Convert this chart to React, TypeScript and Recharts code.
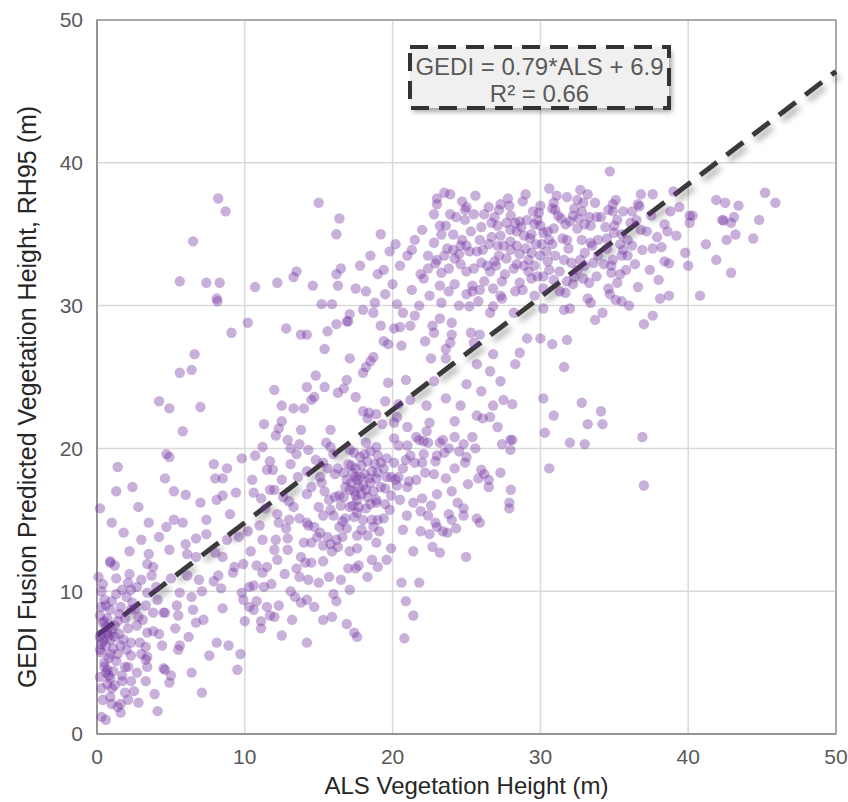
import React from "react";
import {
  ScatterChart,
  Scatter,
  XAxis,
  YAxis,
  CartesianGrid,
  ReferenceLine,
  ReferenceArea,
} from "recharts";

// ALS height (x, m) vs GEDI fusion RH95 (y, m)
const shortStands: [number, number][] = [
  [0.9,12.0],[1.2,11.8],[3.4,11.9],[3.8,11.7],[3.7,11.1],[0.1,11.0],[1.3,10.9],[2.1,10.6],[2.7,10.3],[2.3,10.1],
  [1.7,10.1],[0.3,10.0],[3.4,9.9],[4.1,9.4],[0.5,9.4],[1.0,9.3],[0.3,8.9],[0.9,8.7],[1.6,8.9],[2.3,8.7],
  [3.3,9.0],[3.8,8.5],[4.5,8.5],[4.6,8.5],[5.4,9.0],[5.6,9.9],[5.5,8.3],[6.5,8.7],[6.7,7.8],[7.2,8.0],
  [8.5,8.8],[6.1,11.1],[6.9,10.8],[7.1,10.0],[7.9,10.7],[8.2,11.1],[8.4,10.2],[9.3,11.7],[9.2,11.3],[9.9,11.9],
  [0.5,7.9],[0.7,8.1],[1.4,7.9],[1.9,8.1],[2.1,7.4],[2.7,7.6],[2.8,8.2],[3.4,7.1],[3.8,7.2],[4.2,7.0],
  [0.3,7.0],[0.7,7.1],[0.9,6.6],[0.6,6.2],[0.2,5.9],[1.1,6.0],[1.6,6.2],[1.8,6.6],[2.3,6.4],[2.9,6.4],
  [3.3,6.1],[3.0,5.6],[3.4,5.4],[3.3,5.2],[4.4,6.2],[5.6,6.2],[5.5,5.9],[1.4,5.6],[2.3,5.5],[0.3,5.7],
  [0.5,4.7],[0.7,4.5],[0.8,4.1],[0.9,3.9],[1.9,4.7],[2.1,4.7],[1.7,4.1],[2.3,3.7],[3.4,4.7],[4.5,4.6],
  [4.6,4.5],[5.0,4.1],[4.9,3.6],[6.4,4.3],[8.1,6.4],[8.9,6.2],[9.7,5.6],[9.5,4.5],[0.3,3.2],[1.2,3.4],
  [1.7,3.7],[2.5,3.0],[3.3,3.7],[0.9,2.6],[1.0,2.1],[1.6,2.1],[2.1,2.4],[1.6,1.5],[0.3,1.2],[0.6,1.0],
  [4.1,1.6],[7.1,2.9],[0.4,6.5],[0.6,7.5],[1.0,7.3],[0.8,5.3],[0.5,5.0],[1.2,6.8],[0.2,6.8],[1.1,4.4],
  [0.7,3.5],[0.2,8.3],[1.3,9.8],[2.0,9.6],[0.6,9.0],[1.5,7.0],[2.6,8.8],[0.4,10.5],[3.0,10.8],[2.2,11.2],
  [0.4,7.8],[0.8,6.9],[1.2,7.6],[0.3,6.3],[0.9,5.6],[1.3,5.1],[0.6,4.3],[1.0,3.2],[0.4,2.4],[1.9,2.9],
  [2.7,4.3],[2.0,5.9],[1.5,8.4],[2.4,9.2],[3.1,8.0],[0.2,4.0],[1.4,1.9],[2.8,2.2],[3.9,2.8],[5.3,7.4],
  [6.2,6.8],[7.6,5.5],[4.0,10.3],[5.0,10.9],[6.4,9.6],
  [4.7,19.6],[4.9,19.4],[1.4,18.7],[4.6,17.9],[2.4,17.3],[1.3,17.0],[5.2,17.0],[6.0,16.75],[0.2,15.8],[2.8,15.9],
  [1.0,14.8],[1.8,14.1],[3.5,14.8],[4.7,14.5],[5.2,15.0],[5.8,14.8],[4.2,13.8],[4.9,12.9],[6.0,13.3],[6.7,13.7],
  [7.4,15.0],[3.5,12.6],[0.9,12.1],[6.1,12.6],[6.7,12.4],[8.0,12.7],[8.5,12.4],[7.9,18.9],[8.8,18.6],[8.0,17.9],
  [8.5,17.9],[9.8,19.3],[8.1,16.4],[8.5,16.7],[9.6,13.8],[9.0,15.4],[9.4,16.9],[7.4,14.0],[8.8,13.6],[7.0,16.2],
  [3.0,13.6],[2.2,12.8],
  [8.2,37.5],[8.7,36.6],[6.5,34.5],[5.6,31.7],[7.4,31.6],[8.3,31.6],[8.1,30.5],[8.15,30.3],[9.1,28.1],[6.6,26.6],
  [6.4,25.5],[5.6,25.3],[4.2,23.3],[4.9,22.8],[7.0,22.9],[5.8,21.2],
];

const midStands: [number, number][] = [
  [10.7,31.3],[12.2,31.6],[13.3,32.0],[13.5,32.4],[15.0,37.2],[16.4,36.1],[16.2,35.0],[16.5,32.6],[16.2,32.2],[16.3,31.4],
  [14.6,31.4],[15.2,30.1],[15.9,30.1],[10.2,28.8],[12.8,28.4],[13.8,27.97],[14.2,27.97],[15.6,28.2],[16.2,28.7],[16.9,28.9],
  [15.4,26.96],[14.8,25.1],[14.2,24.3],[15.4,24.3],[16.7,24.2],[16.9,24.8],[16.3,23.9],[14.5,23.4],[14.7,23.6],[12.0,24.1],
  [12.5,23.0],[13.3,22.8],[14.0,22.8],[11.3,21.7],[12.5,21.9],[12.3,21.4],[12.1,20.9],[12.9,20.6],[13.8,21.3],[15.8,21.3],
  [15.5,20.4],[15.8,20.1],[13.7,20.3],[13.1,20.0],[11.2,20.1],[13.5,19.6],[14.3,19.9],[10.7,19.5],
  [11.7,19.1],[11.5,18.5],[11.9,18.5],[13.1,18.9],[11.7,17.1],[10.6,16.9],[11.1,16.5],[12.0,17.1],[12.6,16.6],[11.4,15.8],
  [12.2,15.4],[13.0,15.0],[12.3,14.8],[12.8,14.4],[13.6,18.0],[13.3,15.9],[13.7,15.1],[12.9,13.7],[12.1,13.6],[11.2,13.6],
  [12.0,12.9],[12.9,12.9],[13.8,12.4],[12.2,12.2],[10.4,12.8],[10.8,11.8],[11.5,11.7],[11.2,11.3],[10.6,10.4],[11.3,10.3],
  [10.3,10.3],[10.8,9.3],[13.5,11.6],[13.7,11.0],[10.3,8.9],[11.5,8.9],[12.3,9.0],[12.0,8.2],[13.4,9.6],[13.8,9.2],
  [11.1,7.9],[11.1,7.4],[12.5,6.9],[14.2,6.4],[10.0,7.9],[10.6,8.7],[11.7,8.3],[9.8,9.9],[9.9,9.4],
  [11.0,14.6],[10.2,14.2],[10.5,17.8],[13.0,16.3],[12.5,17.8],[11.8,10.5],[12.7,11.2],[13.1,10.0],[13.2,8.0],
  [14.2,18.4],[15.1,18.0],[15.6,18.6],[16.1,18.2],[16.3,18.6],[16.7,18.3],[15.2,17.6],[14.5,17.3],[15.4,16.99],[14.2,16.8],
  [16.1,16.6],[16.4,16.7],[15.8,15.7],[15.3,15.3],[14.3,14.6],[14.7,14.5],[15.1,14.1],[15.6,13.8],[14.9,13.8],[14.5,13.4],
  [14.0,13.4],[15.8,13.3],[16.2,13.6],[16.3,13.1],[15.9,12.8],[15.3,13.2],[16.6,13.8],[16.4,14.5],[16.6,14.9],[16.8,15.1],
  [16.7,16.6],[16.9,14.4],[14.1,12.0],[14.5,12.0],[15.3,12.1],[14.3,10.8],[16.2,9.3],[15.9,8.2],[15.3,7.99],[16.9,7.7],
  [14.2,9.4],[14.2,14.8],[15.0,15.9],[15.7,16.4],[16.0,15.3],[14.8,19.2],[15.3,19.0],[16.0,19.6],[15.0,10.6],[15.7,11.0],
  [16.5,10.8],[16.0,9.8],[14.7,8.9],[16.5,16.0],
  [17.5,23.6],[19.7,24.6],[20.9,24.8],[18.0,22.6],[18.4,22.5],[18.3,22.1],[18.9,22.4],[19.3,21.7],[20.1,21.8],[20.3,22.2],
  [20.4,23.1],[21.2,23.4],[22.8,24.7],[21.6,20.8],[22.1,20.5],[22.3,21.2],[22.5,21.8],[21.8,20.6],[22.4,20.4],[23.4,20.6],
  [23.2,20.4],[24.2,21.9],[25.7,22.3],[26.1,22.1],[26.6,22.2],[26.8,23.0],[25.4,20.8],[24.8,20.3],[24.2,20.8],[23.8,20.0],
  [23.5,19.7],[22.9,19.1],[22.1,19.6],[22.0,19.0],[22.2,18.3],[22.8,18.2],[24.2,18.6],[25.0,19.4],[24.9,19.0],[26.0,18.5],
  [26.2,18.2],[26.5,17.8],[26.5,17.3],[25.8,17.9],[25.1,17.5],[23.6,17.9],[21.6,17.8],[21.2,19.5],[20.9,19.2],[20.7,18.6],
  [21.1,17.7],[21.0,17.3],[20.4,18.0],[20.3,17.4],[21.0,20.2],[20.4,20.2],[20.1,20.7],[20.1,19.0],[19.6,18.0],[19.4,18.6],
  [19.9,18.0],[20.2,17.8],[18.9,20.1],[19.0,19.5],[18.2,20.4],[17.4,19.7],[17.1,19.9],[17.5,18.6],[17.8,18.0],[17.5,18.0],
  [17.6,17.8],[18.1,18.2],[18.5,17.6],[18.9,17.9],[19.2,17.3],[19.5,17.2],[18.2,17.1],[17.2,17.6],[17.1,17.1],[17.5,16.7],
  [17.6,16.4],[18.3,16.6],[18.9,16.4],[18.9,16.2],[19.5,16.1],[19.8,15.7],[19.4,15.1],[19.0,14.99],[18.2,15.8],[17.7,15.9],
  [17.1,15.9],[17.6,15.5],[18.0,14.99],[17.4,15.2],[18.6,15.0],[18.7,14.5],[19.1,14.2],[18.3,13.9],[17.6,13.9],[17.9,14.3],
  [17.1,12.8],[17.6,13.0],[18.6,12.2],[19.6,12.2],[19.9,13.0],[18.9,13.4],[17.0,11.6],[17.7,11.8],[17.5,11.6],[17.1,10.1],
  [17.4,7.1],[17.6,6.8],[20.9,9.3],[21.4,8.3],[20.6,10.6],[21.8,10.6],[20.8,6.7],[20.7,14.3],[21.4,12.8],[21.9,14.2],
  [22.5,14.0],[22.7,13.1],[23.2,12.7],[23.4,14.2],[23.0,14.5],[23.8,15.4],[24.0,14.99],[23.7,14.1],[22.9,14.8],[22.4,15.3],
  [21.9,15.6],[21.4,16.2],[20.97,15.3],[24.4,16.2],[24.8,15.8],[24.8,15.3],[24.3,14.4],[25.7,15.1],[25.9,14.8],[24.97,12.4],
  [17.9,18.8],[18.3,19.1],[18.6,18.4],[17.3,18.3],[18.0,17.4],[17.8,19.4],[18.5,19.8],[19.2,19.0],[17.0,18.9],[18.8,18.9],
  [17.4,17.0],[16.9,17.8],[17.9,16.8],[18.4,17.9],[17.2,18.8],[19.0,18.3],[18.1,19.6],[16.8,17.3],[17.7,17.3],[18.7,17.0],
  [19.6,19.3],[17.3,16.0],[18.5,16.1],[18.3,11.0],[19.0,11.7],[22.0,16.5],[23.0,16.8],[24.0,17.0],[22.6,16.0],[20.5,16.4],
  [19.9,16.7],[21.5,19.0],[23.0,19.5],[24.5,19.8],[25.6,20.0],[21.0,21.5],[19.5,23.3],[23.6,23.5],[24.6,23.0],[25.0,24.5],
  [26.0,24.0],[22.3,23.0],[27.1,21.5],
  [17.1,29.4],[17.0,28.9],[18.0,29.7],[18.7,29.5],[20.3,30.1],[19.2,28.6],[20.1,28.4],[20.5,28.5],[19.4,27.5],[19.7,27.3],
  [20.6,27.2],[17.1,26.3],[18.7,26.4],[18.5,26.1],[18.2,25.7],[18.0,25.3],[22.6,26.3],[23.6,26.3],[23.6,26.96],[25.7,25.9],
  [26.6,25.4],[26.8,26.6],[27.3,24.7],[22.2,27.5],[23.2,29.1],[25.2,29.95],[26.6,29.5],[25.5,27.4],[28.0,17.1],[27.9,16.2],
  [27.9,15.8],[27.3,18.3],[27.97,20.6],[28.1,20.6],[27.97,19.9],[27.4,20.3],[27.5,23.4],[28.1,23.1],
  [18.5,33.5],[19.0,32.2],[19.8,33.8],[18.2,31.0],[19.5,30.8],[20.0,31.5],[17.8,32.8],[19.2,35.0],[20.2,34.3],[18.8,30.2],
  [17.5,31.2],[19.4,32.5],
];

const tallStands: [number, number][] = [
  [30.6,38.2],[32.7,38.1],[23.5,37.9],[23.0,37.5],[23.9,37.8],[25.6,37.7],[23.0,37.1],[27.3,37.1],[27.9,36.99],[28.8,37.3],
  [31.1,37.7],[30.9,37.2],[31.8,37.6],[32.5,37.4],[32.9,37.2],[33.7,37.2],[30.8,36.8],[24.9,36.7],[27.2,36.7],[32.3,36.8],
  [32.8,36.6],[29.9,36.5],[25.5,36.4],[26.2,36.4],[24.9,36.0],[28.6,35.9],[29.1,36.0],[29.8,36.0],[31.4,36.1],[33.3,36.2],
  [33.8,36.2],[22.0,35.3],[23.2,35.6],[23.6,35.6],[26.7,35.8],[27.1,35.6],[27.7,35.8],[28.3,35.8],[27.97,35.3],[28.4,35.2],
  [29.6,35.7],[30.0,35.6],[30.5,35.2],[30.9,35.4],[31.7,35.7],[32.0,35.9],[32.5,35.4],[33.0,35.7],[33.4,35.6],[23.3,34.98],
  [24.1,34.98],[24.7,34.6],[25.9,34.6],[26.7,34.8],[27.3,34.9],[27.5,34.2],[27.97,34.5],[28.4,34.2],[28.9,34.9],[29.3,34.7],
  [29.7,34.3],[30.2,35.1],[30.6,34.6],[30.8,34.3],[31.5,34.7],[31.8,34.6],[32.8,34.6],[33.4,34.4],[33.9,34.6],[21.0,33.5],
  [21.3,33.9],[22.4,33.5],[23.0,33.2],[23.5,33.5],[23.7,34.0],[24.1,33.9],[24.2,33.3],[24.6,34.2],[25.0,34.2],[25.2,33.8],
  [25.7,33.8],[26.1,33.9],[26.5,34.3],[27.1,34.2],[27.2,33.5],[27.7,33.3],[28.6,33.6],[29.2,33.2],[29.4,33.7],[29.98,33.5],
  [30.5,33.1],[31.0,33.5],[31.6,33.2],[32.1,33.0],[32.7,33.2],[33.0,33.7],[33.5,34.2],[33.9,33.5],[20.5,32.8],[21.9,32.2],
  [22.1,31.9],[22.9,32.96],[23.3,32.3],[23.8,32.6],[24.6,32.9],[24.99,32.4],[25.5,32.6],[26.4,32.8],[26.9,33.1],[26.6,32.4],
  [28.2,32.6],[28.4,32.9],[28.9,32.8],[29.2,32.4],[29.4,31.9],[29.8,32.05],[30.2,32.05],[30.6,32.5],[31.8,31.7],[32.5,32.5],
  [32.9,31.9],[33.3,31.6],[33.8,32.05],[21.3,31.1],[23.2,31.4],[23.8,31.0],[24.2,31.5],[25.4,31.4],[25.4,31.0],[25.9,31.1],
  [26.8,31.2],[27.3,30.7],[28.3,31.0],[28.6,31.6],[25.8,30.3],[26.8,29.95],[27.4,30.5],[29.6,30.7],[30.2,31.2],[31.3,31.0],
  [31.7,30.9],[32.2,31.5],[33.2,30.5],[33.4,30.2],[20.7,29.5],[21.5,29.3],[21.2,28.6],[22.7,28.6],[22.8,28.1],[24.0,28.8],
  [24.0,27.97],[23.9,27.4],[23.3,30.2],[25.3,28.1],[25.9,27.97],[28.2,29.5],[29.1,27.7],[30.0,27.7],[30.8,27.3],[31.8,27.6],
  [31.6,29.7],[32.0,29.8],[33.7,29.0],[30.2,29.8],
  [25.3,35.2],[26.0,35.5],[28.0,36.3],[29.0,34.0],[30.4,33.8],[31.2,36.3],[27.6,32.2],[26.2,31.7],[24.5,33.6],[29.5,36.6],
  [30.1,34.3],[28.7,35.5],[31.9,34.0],[32.2,36.3],[25.0,36.9],[26.5,36.9],[27.8,37.5],[29.0,37.8],[30.0,37.0],[26.0,33.0],
  [27.0,32.8],[28.0,33.9],[29.6,32.8],[30.9,31.8],[31.3,32.4],[32.3,32.0],[33.0,32.8],[33.6,33.0],[24.3,36.2],[22.8,34.4],
  [23.9,36.4],[24.7,37.3],[26.9,36.2],[29.4,35.0],[31.0,36.7],[32.6,36.1],[33.2,37.8],[27.4,31.7],[28.8,31.1],[24.5,30.0],
  [25.0,30.8],[22.5,30.7],[21.8,30.0],[22.4,32.6],[21.5,34.6],[22.8,36.4],
  [28.6,26.7],[28.3,25.9],[31.6,25.7],[30.2,23.5],[30.9,22.3],[32.8,23.2],[34.1,22.6],[34.2,21.7],[33.2,21.7],[30.3,21.1],
  [32.0,20.4],[33.0,20.3],[36.9,20.8],[30.6,18.6],[37.0,17.4],
  [34.7,39.4],[36.8,37.8],[37.6,37.8],[39.0,38.0],[41.9,37.4],[42.5,37.2],[43.4,37.0],[45.2,37.9],[45.9,37.2],[34.9,37.1],
  [36.6,37.1],[36.7,36.96],[38.8,36.6],[40.1,36.3],[40.3,36.3],[40.1,35.8],[42.3,36.0],[42.4,35.96],[42.9,35.8],[43.1,36.2],
  [44.8,36.0],[34.1,36.2],[35.2,36.0],[36.1,35.8],[36.5,35.99],[38.4,35.7],[38.6,35.2],[37.2,35.2],[39.2,34.9],[37.9,34.8],
  [42.6,34.6],[43.2,34.98],[44.4,34.7],[34.5,34.7],[34.97,35.1],[35.5,35.0],[34.5,34.0],[35.4,34.3],[35.6,33.9],[36.2,34.2],
  [36.9,33.9],[37.6,34.0],[38.2,34.1],[39.8,33.7],[35.9,33.5],[35.5,33.5],[38.4,33.1],[38.7,32.96],[40.0,32.8],[41.9,33.2],
  [42.9,32.3],[34.3,32.9],[34.8,32.8],[34.8,32.3],[35.4,32.2],[35.8,32.5],[35.2,31.6],[34.6,31.2],[34.7,30.8],[35.1,30.4],
  [35.5,30.3],[36.0,30.0],[38.1,30.5],[38.7,30.7],[37.6,29.3],[37.0,28.7],[34.2,29.5],
  [34.9,36.6],[35.1,37.4],[34.4,35.5],[35.9,34.6],[34.6,36.7],[35.6,36.6],[36.2,36.6],[35.0,35.6],[36.8,35.3],[37.5,36.3],
  [34.9,33.2],[36.4,32.9],[37.4,32.5],[36.6,31.3],[38.0,31.8],[39.4,36.9],[41.2,34.3],[40.8,30.7],
];

const axisTicks = [0, 10, 20, 30, 40, 50];
const fitSlope = 0.79;
const fitIntercept = 6.9;
const fitLabel = "GEDI = 0.79*ALS + 6.9";
const r2Label = "R² = 0.66";
const xTitle = "ALS Vegetation Height (m)";
const yTitle = "GEDI Fusion Predicted Vegetation Height, RH95 (m)";

const points = [...shortStands, ...midStands, ...tallStands].map(([x, y]) => ({ x, y }));

const FONT = '"Liberation Sans", Arial, sans-serif';

const Dot = (props: any) => {
  const { cx, cy } = props;
  if (cx == null || cy == null) return null;
  return <circle cx={cx} cy={cy} r={5.2} fill="#7030a0" fillOpacity={0.38} />;
};

export default function App() {
  return (
    <div style={{ position: "relative", width: 848, height: 802, fontFamily: FONT, background: "#fff" }}>
      <style>{`body { margin: 0; } .recharts-reference-line-line { filter: drop-shadow(3px 5px 3px rgba(0,0,0,0.35)); } .recharts-surface { overflow: visible; }`}</style>
      <div style={{ position: "absolute", left: 8, top: 8 }}>
        <ScatterChart
          width={840}
          height={786}
          margin={{ top: 12, right: 12, bottom: 0, left: 0 }}
          style={{ overflow: "visible" }}
        >
          <CartesianGrid stroke="#d9d9d9" strokeWidth={1.5} />
          <XAxis
            type="number"
            dataKey="x"
            domain={[0, 50]}
            ticks={axisTicks}
            interval={0}
            height={60}
            tickLine={false}
            tickMargin={9}
            axisLine={{ stroke: "#8c8c8c", strokeWidth: 1.5 }}
            tick={{ fill: "#595959", fontSize: 21, fontFamily: FONT }}
          />
          <YAxis
            type="number"
            dataKey="y"
            domain={[0, 50]}
            ticks={axisTicks}
            interval={0}
            width={89}
            tickLine={false}
            tickMargin={8}
            axisLine={{ stroke: "#8c8c8c", strokeWidth: 1.5 }}
            tick={{ fill: "#595959", fontSize: 21, fontFamily: FONT }}
          />
          <ReferenceArea x1={0} x2={50} y1={0} y2={50} fill="none" fillOpacity={0} stroke="#999999" strokeWidth={1.5} />
          <Scatter data={points} isAnimationActive={false} shape={Dot} />
          <ReferenceLine
            segment={[
              { x: 0, y: fitIntercept },
              { x: 50, y: fitSlope * 50 + fitIntercept },
            ]}
            stroke="#3a3a3a"
            strokeWidth={5}
            strokeDasharray="21 12"
          />
        </ScatterChart>
      </div>
      <svg
        width={848}
        height={802}
        style={{ position: "absolute", left: 0, top: 0, pointerEvents: "none" }}
      >
        <defs>
          <filter id="boxShadow" x="-10%" y="-20%" width="130%" height="160%">
            <feDropShadow dx="3" dy="4" stdDeviation="2.5" floodColor="#000" floodOpacity="0.35" />
          </filter>
        </defs>
        <rect x={410} y={47} width={259} height={61} fill="#f0f0f0" filter="url(#boxShadow)" />
        <rect
          x={410}
          y={47}
          width={259}
          height={61}
          fill="none"
          stroke="#333333"
          strokeWidth={4}
          strokeDasharray="18 10"
        />
        <text x={539.5} y={75} textAnchor="middle" fontSize={24} fill="#595959" fontFamily={FONT}>
          {fitLabel}
        </text>
        <text x={539.5} y={102} textAnchor="middle" fontSize={24} fill="#595959" fontFamily={FONT}>
          {r2Label}
        </text>
        <text x={466.5} y={794} textAnchor="middle" fontSize={24} fill="#262626" fontFamily={FONT}>
          {xTitle}
        </text>
        <text
          x={0}
          y={0}
          transform="translate(36,397) rotate(-90)"
          textAnchor="middle"
          fontSize={25}
          fill="#262626"
          fontFamily={FONT}
        >
          {yTitle}
        </text>
      </svg>
    </div>
  );
}
